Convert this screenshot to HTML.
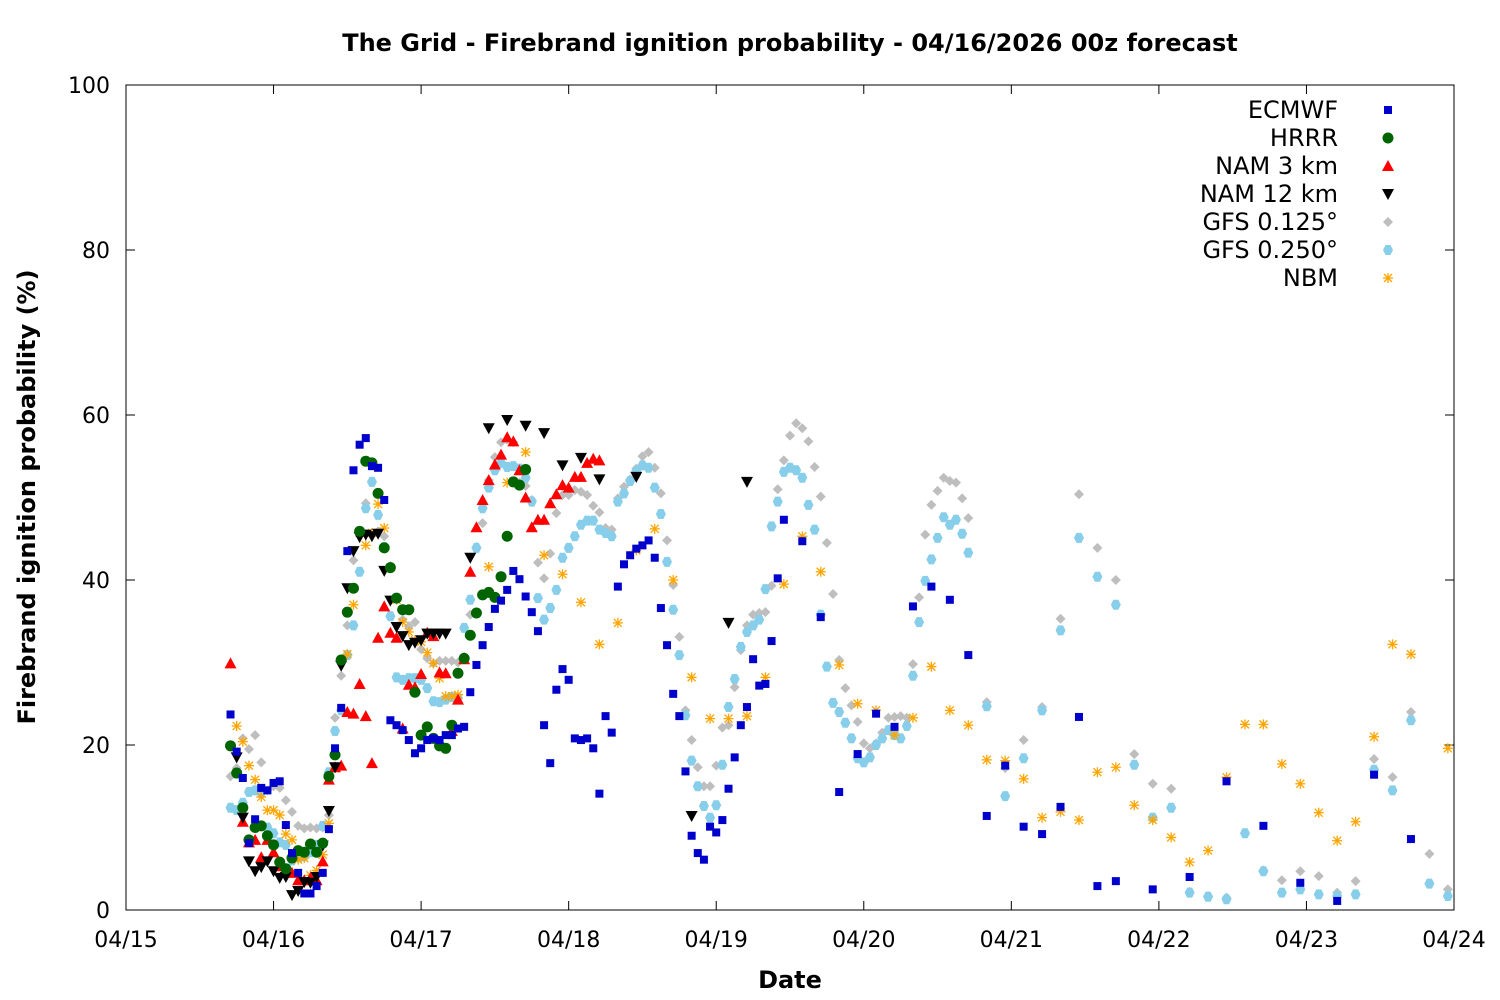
<!DOCTYPE html>
<html><head><meta charset="utf-8"><title>Firebrand ignition probability</title>
<style>
html,body{margin:0;padding:0;background:#fff;}
svg{display:block;font-family:"DejaVu Sans","Liberation Sans",sans-serif;}
</style></head>
<body>
<svg id="chart" width="1500" height="1000" viewBox="0 0 1500 1000" xmlns="http://www.w3.org/2000/svg">
<text x="790" y="51" text-anchor="middle" font-size="24" font-weight="bold">The Grid - Firebrand ignition probability - 04/16/2026 00z forecast</text>
<text transform="translate(35,497) rotate(-90)" text-anchor="middle" font-size="24" font-weight="bold">Firebrand ignition probability (%)</text>
<text x="790" y="988" text-anchor="middle" font-size="24" font-weight="bold">Date</text>
<g id="axes"></g>
<g id="marks"></g>
<g id="legend"></g>
<rect x="126" y="85" width="1328" height="825" fill="none" stroke="#000" stroke-width="1"/>
</svg>
<script>
const xTickLabels = ["04/15","04/16","04/17","04/18","04/19","04/20","04/21","04/22","04/23","04/24"];
const yTickValues = [0,20,40,60,80,100];

const ecmwfTimes = [17,18,19,20,21,22,23,24,25,26,27,28,29,30,31,32,33,34,35,36,37,38,39,40,41,42,43,44,45,46,47,48,49,50,51,52,53,54,55,56,57,58,59,60,61,62,63,64,65,66,67,68,69,70,71,72,73,74,75,76,77,78,79,80,81,82,83,84,85,86,87,88,89,90,91,92,93,94,95,96,97,98,99,100,101,102,103,104,105,106,107,110,113,116,119,122,125,128,131,134,137,140,143,146,149,152,155,158,161,167,173,179,185,191,197,203,209];
const ecmwfValues = [23.7,19.2,16,8.1,11,14.8,14.5,15.4,15.6,10.3,6.9,4.5,2,2,2.9,4.5,9.8,19.6,24.5,43.5,53.3,56.4,57.2,53.8,53.6,49.7,23,22.4,21.8,20.6,19,19.6,20.6,20.8,20.6,21.2,21.2,22,22.2,26.4,29.7,32.1,34.3,36.5,37.5,38.8,41.1,40.1,38,36.1,33.8,22.4,17.8,26.7,29.2,27.9,20.8,20.6,20.8,19.6,14.1,23.5,21.5,39.2,41.9,43,43.8,44.2,44.8,42.7,36.6,32.1,26.2,23.5,16.8,9,6.9,6.1,10.1,9.4,10.9,14.7,18.5,22.4,24.6,30.4,27.2,27.4,32.6,40.2,47.3,44.7,35.5,14.3,18.9,23.8,22.2,36.8,39.2,37.6,30.9,11.4,17.5,10.1,9.2,12.5,23.4,2.9,3.5,2.5,4,15.6,10.2,3.3,1.1,16.4,8.6];

const hrrrTimes = [17,18,19,20,21,22,23,24,25,26,27,28,29,30,31,32,33,34,35,36,37,38,39,40,41,42,43,44,45,46,47,48,49,50,51,52,53,54,55,56,57,58,59,60,61,62,63,64,65];
const hrrrValues = [19.9,16.6,12.4,8.5,10,10.2,9,7.9,5.8,5,6.3,7.2,7,8,7,8.1,16.2,18.8,30.3,36.1,39,45.9,54.4,54.2,50.5,43.9,41.5,37.8,36.4,36.4,26.4,21.2,22.2,20.8,19.9,19.6,22.4,28.7,30.5,33.3,36,38.2,38.5,37.9,40.4,45.3,51.9,51.5,53.4];

const nam3Times = [17,19,20,21,22,23,24,25,26,27,28,29,30,31,32,33,34,35,36,37,38,39,40,41,42,43,44,45,46,47,48,49,50,51,52,53,54,55,56,57,58,59,60,61,62,63,64,65,66,67,68,69,70,71,72,73,74,75,76,77];
const nam3Values = [29.9,10.7,8.2,8.5,6.4,8.5,7,5.3,4.8,4.5,3.6,3.6,3.9,3.6,5.9,15.8,17.3,17.5,24,23.8,27.4,23.5,17.8,33,36.8,33.6,33,22,27.3,27,28.6,33.6,33.2,28.8,28.7,21.7,25.5,30.4,41,46.4,49.7,52.1,54,55.2,57.3,56.8,53.3,50,46.4,47.3,47.3,49.3,50.4,51.5,51.2,52.5,52.5,54.2,54.7,54.5];

const nam12Times = [18,19,20,21,22,23,24,25,26,27,28,29,30,31,32,33,34,35,36,37,38,39,40,41,42,43,44,45,46,47,48,49,50,51,52,56,59,62,65,68,71,74,77,83,92,98,101];
const nam12Values = [18.5,11.2,5.9,4.7,5.2,5.9,4.7,3.9,4,1.8,2.3,3.4,3.3,4,7.8,12,17.3,29.6,39,43.5,45.2,45.5,45.3,45.6,41.1,37.5,34.3,33.2,32.1,32.4,32.7,33.5,33.5,33.5,33.5,42.7,58.4,59.4,58.7,57.8,53.9,54.8,52.2,52.5,11.4,34.8,51.9];

const gfs125Times = [17,18,19,20,21,22,23,24,25,26,27,28,29,30,31,32,33,34,35,36,37,38,39,40,41,42,43,44,45,46,47,48,49,50,51,52,53,54,55,56,57,58,59,60,61,62,63,64,65,66,67,68,69,70,71,72,73,74,75,76,77,78,79,80,81,82,83,84,85,86,87,88,89,90,91,92,93,94,95,96,97,98,99,100,101,102,103,104,105,106,107,108,109,110,111,112,113,114,115,116,117,118,119,120,121,122,123,124,125,126,127,128,129,130,131,132,133,134,135,136,137,140,143,146,149,152,155,158,161,164,167,170,173,176,179,182,185,188,191,194,197,200,203,206,209,212,215];
const gfs125Values = [16.2,17.2,20.8,19.5,21.2,17.9,14.5,15,14.8,13.3,11.9,10.2,9.9,10,9.9,10,11.5,23.3,28.4,34.5,42.4,45.6,49.3,51.9,45.9,45.3,41.7,37.7,35.2,34.4,34.9,31.6,30.5,29.9,30.2,30.2,30.2,30,30.7,35.8,44,46.9,52.1,54.9,56.7,57,56.7,51.8,51.4,49.7,42.1,40.2,43.2,48.1,50.3,50.3,50.9,50.7,50.3,49,48.2,46.3,46.1,49.9,51.3,52.2,53.5,55,55.5,53.6,50.5,44.8,39.4,33.1,24.2,20.6,17.3,15,15,17.5,22.1,22.4,27,31.5,34.5,35.8,36,36.1,39.3,51,54.5,57.5,59,58.4,56.8,53.7,50.1,44.5,38.3,30.3,26.9,24.8,22.8,20.2,19.6,20.2,21.5,23.3,23.4,23.5,23.3,29.8,37.9,45.5,49.1,50.8,52.4,52,51.8,49.9,47.5,25.2,17.2,20.6,24.6,35.3,50.4,43.9,40,18.9,15.3,14.7,2.2,1.7,1.5,9.3,4.8,3.6,4.7,4.1,2.1,3.5,18.3,16.1,24,6.8,2.5];

const gfs250Times = gfs125Times;
const gfs250Values = [12.4,12.1,13,14.3,14.5,14.2,10,9.3,8.2,7.9,6,6.4,6.5,7,7.9,10.2,16.7,21.7,24.2,30.9,34.5,41,48.7,51.9,47.9,44,35.6,28.2,27.9,28.1,28.1,27.9,26.9,25.3,25.2,25.5,25.8,25.7,34.2,37.6,43.9,48.7,51.2,53.3,54.2,53.7,53.8,53.5,52.4,49.5,37.8,35.2,36.6,38.8,42.7,43.9,45.3,46.7,47.2,47.2,46.1,45.7,45.3,49.5,50.5,52,53.2,53.9,53.6,51.2,48,42.2,36.4,30.9,23.6,18.1,15,12.6,11.2,12.7,17.6,24.6,28,31.9,33.7,34.5,35.2,38.9,46.5,49.5,53.1,53.6,53.3,52.4,49.1,46.1,35.8,29.5,25.1,24,22.7,20.8,18.4,17.9,18.5,20,20.8,21.8,21.2,20.8,22.3,28.4,34.9,39.9,42.5,45.1,47.6,46.7,47.3,45.6,43.3,24.7,13.8,18.4,24.2,33.9,45.1,40.4,37,17.6,11.2,12.4,2.1,1.6,1.3,9.3,4.7,2.1,2.5,1.9,1.7,1.9,17,14.5,23,3.2,1.7];

const nbmTimes = [18,19,20,21,22,23,24,25,26,27,28,29,30,31,32,33,34,35,36,37,38,39,40,41,42,43,44,45,46,47,48,49,50,51,52,53,54,59,62,65,68,71,74,77,80,83,86,89,92,95,98,101,104,107,110,113,116,119,122,125,128,131,134,137,140,143,146,149,152,155,158,161,164,167,170,173,176,179,182,185,188,191,194,197,200,203,206,209,215];
const nbmValues = [22.3,20.4,17.5,15.8,13.7,12.1,12.1,11.5,9.2,8.5,6.1,6.3,4.2,4.8,6.7,10.5,17.2,30.3,31,37,45.7,44.2,45.7,49.2,46.3,41.5,37.6,34.9,33.7,32.7,32.5,31.2,29.9,28.1,25.9,25.9,26.1,41.6,51.8,55.5,43,40.7,37.3,32.2,34.8,43.6,46.2,40,28.2,23.2,23.2,23.5,28.2,39.5,45.3,41,29.7,25,24.2,21.2,23.3,29.5,24.2,22.4,18.2,18.1,15.9,11.2,11.9,10.9,16.7,17.3,12.7,10.9,8.8,5.8,7.2,16.1,22.5,22.5,17.7,15.3,11.8,8.4,10.7,21,32.2,31,19.6];

const seriesNames = ["ECMWF","HRRR","NAM 3 km","NAM 12 km","GFS 0.125°","GFS 0.250°","NBM"];

const X0=126, X1=1454, Y0=910, Y1=85, HMAX=216;
function xScale(h){return X0+(X1-X0)*h/HMAX;}
function yScale(v){return Y0-(Y0-Y1)*v/100;}
const NS="http://www.w3.org/2000/svg";
function mk(tag,attrs,parent){const e=document.createElementNS(NS,tag);for(const k in attrs)e.setAttribute(k,attrs[k]);parent.appendChild(e);return e;}

const axes=document.getElementById('axes');
xTickLabels.forEach((lab,i)=>{
  const x=xScale(i*24);
  const t=mk('line',{x1:x,x2:x,y1:Y0,y2:Y0-9,stroke:'#000'},axes);
  
  
  const t2=mk('line',{x1:x,x2:x,y1:Y1,y2:Y1+9,stroke:'#000'},axes);
  
  
  const tx=mk('text',{x:x,y:947,'text-anchor':'middle','font-size':'22'},axes);
  tx.textContent=lab;
  
  
});
yTickValues.forEach(v=>{
  const y=yScale(v);
  const t=mk('line',{x1:X0,x2:X0+9,y1:y,y2:y,stroke:'#000'},axes);
  
  
  const t2=mk('line',{x1:X1,x2:X1-9,y1:y,y2:y,stroke:'#000'},axes);
  
  
  const tx=mk('text',{x:110,y:y+8,'text-anchor':'end','font-size':'22'},axes);
  tx.textContent=v;
  
  
});

function marker(kind,x,y,parent){
  let e;
  if(kind==='square') e=mk('rect',{x:x-4,y:y-4,width:8,height:8,fill:'#0000cd'},parent);
  else if(kind==='circle') e=mk('circle',{cx:x,cy:y,r:5.5,fill:'#006400'},parent);
  else if(kind==='tri') e=mk('polygon',{points:`${x},${y-6} ${x-6},${y+5} ${x+6},${y+5}`,fill:'#ff0000'},parent);
  else if(kind==='dtri') e=mk('polygon',{points:`${x},${y+6} ${x-6},${y-5} ${x+6},${y-5}`,fill:'#000'},parent);
  else if(kind==='diamond') e=mk('polygon',{points:`${x},${y-5} ${x+5},${y} ${x},${y+5} ${x-5},${y}`,fill:'#bebebe'},parent);
  else if(kind==='hex') e=mk('polygon',{points:`${x-2.5},${y-5} ${x+2.5},${y-5} ${x+5},${y} ${x+2.5},${y+5} ${x-2.5},${y+5} ${x-5},${y}`,fill:'#87ceeb'},parent);
  else {
    e=mk('g',{stroke:'#ffa500','stroke-width':'1.3'},parent);
    mk('line',{x1:x-5,x2:x+5,y1:y,y2:y},e);
    mk('line',{x1:x,x2:x,y1:y-5,y2:y+5},e);
    mk('line',{x1:x-4,x2:x+4,y1:y-4,y2:y+4},e);
    mk('line',{x1:x-4,x2:x+4,y1:y+4,y2:y-4},e);
  }
  return e;
}

const series=[
  {t:gfs125Times,v:gfs125Values,k:'diamond',n:'gfs-0125'},
  {t:gfs250Times,v:gfs250Values,k:'hex',n:'gfs-0250'},
  {t:nbmTimes,v:nbmValues,k:'star',n:'nbm'},
  {t:nam3Times,v:nam3Values,k:'tri',n:'nam-3km'},
  {t:nam12Times,v:nam12Values,k:'dtri',n:'nam-12km'},
  {t:hrrrTimes,v:hrrrValues,k:'circle',n:'hrrr'},
  {t:ecmwfTimes,v:ecmwfValues,k:'square',n:'ecmwf'}
];
const marks=document.getElementById('marks');
series.forEach(s=>{
  const g=mk('g',{},marks);
  
  
  s.t.forEach((h,i)=>{
    if(s.v[i]===undefined) return;
    const m=marker(s.k,xScale(h),yScale(s.v[i]),g);
    
    
  });
});

const legendKinds=['square','circle','tri','dtri','diamond','hex','star'];
const legend=document.getElementById('legend');
seriesNames.forEach((name,i)=>{
  const y=110+i*28;
  const g=mk('g',{},legend);
  
  
  const tx=mk('text',{x:1338,y:y+8,'text-anchor':'end','font-size':'24'},g);
  tx.textContent=name;
  marker(legendKinds[i],1388,y,g);
});
</script>
</body></html>
